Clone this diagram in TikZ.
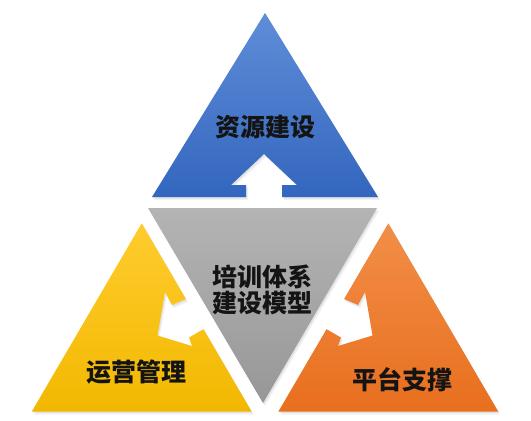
\documentclass[tikz,border=0pt]{standalone}
\usepackage{fontspec}
\newfontfamily\cjk{Noto Sans CJK SC}
\definecolor{blueT}{HTML}{5F8DD8}
\definecolor{blueB}{HTML}{3366BE}
\definecolor{yelT}{HTML}{FFCC2E}
\definecolor{yelB}{HTML}{F2B800}
\definecolor{oraT}{HTML}{F28E48}
\definecolor{oraB}{HTML}{E86F1E}
\definecolor{grayT}{HTML}{B4B4B4}
\definecolor{grayB}{HTML}{979797}
\definecolor{txt}{HTML}{141414}
\tikzset{
  softshadow/.style={
    preaction={fill=black,fill opacity=0.07,transform canvas={xshift=1pt,yshift=-1.5pt}},
    preaction={fill=black,fill opacity=0.05,transform canvas={xshift=2pt,yshift=-3pt}}},
  piece/.style 2 args={softshadow,top color=#1,bottom color=#2,draw=none},
  label/.style={font=\cjk\bfseries\fontsize{25}{26}\selectfont,text=txt,align=center,inner sep=0pt}
}
\begin{document}
\begin{tikzpicture}[x=1pt,y=-1pt]
\useasboundingbox (0,0) rectangle (531,421);
% blue (top)
\path[piece={blueT}{blueB}] (265,13) -- (378,197) -- (282,197) -- (282,185) -- (297,185)
  -- (264,154) -- (231,185) -- (246,185) -- (246,197) -- (152,197) -- cycle;
% gray (centre, inverted)
\path[piece={grayT}{grayB}] (148,208) -- (377,208) -- (263,403) -- cycle;
% yellow (left)
\path[piece={yelT}{yelB}] (141.7,223.3) -- (185.9,299) -- (172,305) -- (165,292)
  -- (157.5,335.5) -- (192,346) -- (189,337.5) -- (203.5,329.2)
  -- (251.7,411.7) -- (31.7,411.7) -- cycle;
% orange (right, mirror of yellow about x=265)
\path[piece={oraT}{oraB}] (388.3,223.3) -- (344.1,299) -- (358,305) -- (365,292)
  -- (372.5,335.5) -- (338,346) -- (341,337.5) -- (326.5,329.2)
  -- (278.3,411.7) -- (498.3,411.7) -- cycle;
% labels
\node[label] (res) at (265,127) {资源建设};
\node[label] (core) at (262.5,290) {培训体系\\建设模型};
\node[label] (ops) at (136,372.5) {运营管理};
\node[label] (plat) at (402.5,380) {平台支撑};
\end{tikzpicture}
\end{document}
